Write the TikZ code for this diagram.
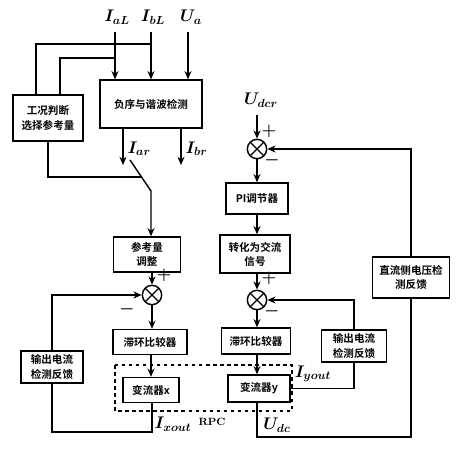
\documentclass[tikz,border=0pt]{standalone}
\usepackage{fontspec}
\newfontfamily\cjk{Noto Sans CJK SC}[BoldFont=* Bold]
\usetikzlibrary{arrows.meta}
\begin{document}
\begin{tikzpicture}[x=0.03cm,y=-0.03cm,line width=1.2pt,>={Stealth[length=7pt,width=6pt]},
  blk/.style={draw,align=center,inner sep=1pt,font=\cjk\bfseries\fontsize{9}{12}\selectfont},
  summer/.style={draw,circle,minimum size=16.5pt,inner sep=0pt,path picture={
    \draw[line width=1pt] (path picture bounding box.south west)--(path picture bounding box.north east)
      (path picture bounding box.north west)--(path picture bounding box.south east);}},
  lbl/.style={font=\Large\boldmath},
  sgn/.style={font=\Large\boldmath}]
\useasboundingbox (0,0) rectangle (467,450);
% blocks
\node[blk,minimum width=2.1cm,minimum height=1.38cm] (sel) at (48,118) {工况判断\\选择参考量};
\node[blk,minimum width=3.06cm,minimum height=1.44cm] (det) at (151,104) {负序与谐波检测};
\node[blk,minimum width=2.01cm,minimum height=1.05cm] (adj) at (147,254.5) {参考量\\调整};
\node[blk,minimum width=2.22cm,minimum height=0.75cm] (hysx) at (150,342) {滞环比较器};
\node[blk,minimum width=1.68cm,minimum height=0.75cm] (convx) at (151,390) {变流器x};
\node[blk,minimum width=1.86cm,minimum height=0.96cm] (fbx) at (52,367) {输出电流\\检测反馈};
\node[blk,minimum width=1.86cm,minimum height=0.93cm] (pi) at (257,198.5) {PI调节器};
\node[blk,minimum width=2.1cm,minimum height=1.14cm] (ac) at (255,254) {转化为交流\\信号};
\node[blk,minimum width=2.07cm,minimum height=0.78cm] (hysy) at (256,341) {滞环比较器};
\node[blk,minimum width=1.86cm,minimum height=0.81cm] (convy) at (259,388.5) {变流器y};
\node[blk,minimum width=1.95cm,minimum height=0.96cm] (fby) at (354,346) {输出电流\\检测反馈};
\node[blk,minimum width=2.31cm,minimum height=1.23cm] (dcfb) at (411,277.5) {直流侧电压检\\测反馈};
% summing points
\node[summer] (sumx) at (152,295) {};
\node[summer] (sumdc) at (257,149) {};
\node[summer] (sumy) at (257,300) {};
% inputs
\node[lbl] (iaL) at (117,17) {$I_{aL}$};
\node[lbl] (ibL) at (153,17) {$I_{bL}$};
\node[lbl] (ua) at (191,17) {$U_a$};
\node[lbl] (udcr) at (261,100) {$U_{dcr}$};
\draw[->] (115,32) -- (115,0|-det.north);
\draw[->] (151,32) -- (151,0|-det.north);
\draw[->] (188,32) -- (188,0|-det.north);
\draw (sel.north-|36,0) |- (151,44);
\draw (sel.north-|60,0) |- (115,58);
% outputs of detection and switch
\coordinate (sw1) at (130,160);
\coordinate (sw2) at (151,191);
\draw[->] (det.south-|123,0) -- (123,165) node[pos=.55,right,lbl] {$I_{ar}$};
\draw[->] (det.south-|181,0) -- (181,165) node[pos=.55,right,lbl] {$I_{br}$};
\draw (sel.south) |- (141,177);
\draw[->] (sw1) -- (sw2) -- (sw2|-adj.north);
% left chain
\draw[->] (adj.south-|sumx) -- (sumx) node[pos=.25,right,sgn] {$+$};
\draw[->] (sumx) -- (hysx.north-|sumx);
\draw[->] (hysx.south-|convx) -- (convx);
\draw (convx.south-|152,0) -- (152,432) -| (fbx.south);
\draw[->] (fbx.north) |- (sumx);
\node[sgn] at (127,309) {$-$};
% right chain
\draw[->] (257,115) -- (sumdc) node[pos=.7,right,sgn] {$+$};
\node[sgn] at (272,160) {$-$};
\draw[->] (sumdc) -- (pi);
\draw[->] (pi) -- (pi.south|-ac.north);
\draw[->] (ac.south-|sumy) -- (sumy) node[pos=.3,right,sgn] {$+$};
\node[sgn] at (272,311) {$-$};
\draw[->] (sumy) -- (sumy|-hysy.north);
\draw[->] (sumy|-hysy.south) -- (sumy|-convy.north);
\draw (convy.east) -| (fby.south);
\draw[->] (fby.north) |- (sumy);
\draw (convy.south-|sumy) -- (257,437) -| (dcfb.south);
\draw[->] (dcfb.north) |- (sumdc);
% RPC
\draw[dashed,line width=1.4pt] (115,365) rectangle (292,411);
\node[lbl] (ixout) at (173,424) {$I_{xout}$};
\node[font=\bfseries\small] (rpc) at (212,422) {RPC};
\node[lbl] (udc) at (277,425) {$U_{dc}$};
\node[lbl] (iyout) at (313,374) {$I_{yout}$};
\end{tikzpicture}
\end{document}
